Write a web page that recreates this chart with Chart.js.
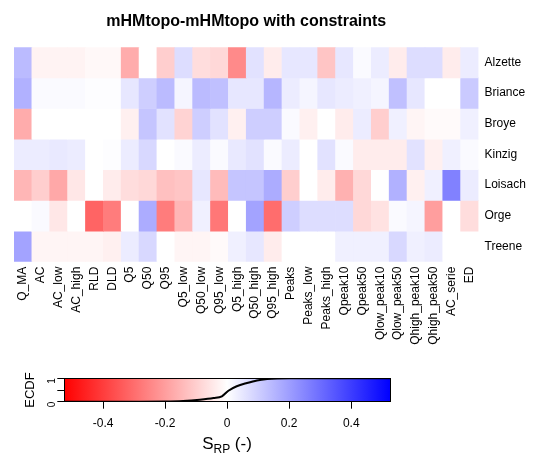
<!DOCTYPE html>
<html lang="en">
<head>
<meta charset="UTF-8">
<title>mHMtopo-mHMtopo with constraints</title>
<script src="https://cdn.jsdelivr.net/npm/chart.js"></script>
<style>
    body { margin: 0; background: #fff; font-family: "Liberation Sans", Arial, sans-serif; }
    #wrap { position: relative; width: 533px; height: 455px; overflow: hidden; }
    #heat { position: absolute; left: 0; top: 0; }
    #bar { position: absolute; left: 0; top: 347px; }
    #srp { position: absolute; top: 434px; left: 167px; width: 120px; text-align: center; font-size: 17px; color: #000; }
    #srp sub { font-size: 12px; }
</style>
</head>
<body>
<div id="wrap">
    <canvas id="heat" width="533" height="347"></canvas>
    <canvas id="bar" width="533" height="108"></canvas>
    <div id="srp">S<sub>RP</sub> (-)</div>
</div>
<script>
    // catchments (rows, top to bottom) and signatures (columns)
    const rows = ['Alzette', 'Briance', 'Broye', 'Kinzig', 'Loisach', 'Orge', 'Treene'];
    const cols = ['Q_MA', 'AC', 'AC_low', 'AC_high', 'RLD', 'DLD', 'Q5', 'Q50', 'Q95',
        'Q5_low', 'Q50_low', 'Q95_low', 'Q5_high', 'Q50_high', 'Q95_high',
        'Peaks', 'Peaks_low', 'Peaks_high', 'Qpeak10', 'Qpeak50',
        'Qlow_peak10', 'Qlow_peak50', 'Qhigh_peak10', 'Qhigh_peak50', 'AC_serie', 'ED'];

    // S_RP values, one array per catchment
    const alzette = [0.14, -0.025, -0.025, -0.025, -0.015, -0.015, -0.17, 0.0, -0.1, 0.07, -0.07, -0.08, -0.24, 0.06, -0.04, 0.05, 0.05, -0.12, 0.05, 0.01, 0.04, -0.04, 0.07, 0.07, -0.04, 0.04];
    const briance = [0.16, 0.01, 0.01, 0.01, 0.005, 0.005, 0.05, 0.1, 0.14, 0.02, 0.14, 0.13, 0.05, 0.05, 0.15, 0.04, 0.02, 0.05, 0.04, 0.03, 0.02, 0.13, 0.05, 0.0, 0.0, 0.11];
    const broye = [-0.17, 0.0, 0.0, 0.0, 0.0, 0.0, -0.03, 0.12, 0.06, -0.09, 0.1, 0.06, -0.03, 0.1, 0.1, 0.01, -0.03, 0.0, -0.04, 0.04, -0.1, 0.03, -0.02, -0.01, -0.01, 0.03];
    const kinzig = [0.04, 0.04, 0.045, 0.04, 0.0, 0.005, 0.04, 0.08, 0.0, 0.01, 0.04, 0.01, 0.045, 0.06, 0.01, 0.04, 0.0, 0.06, 0.01, -0.04, -0.04, -0.04, 0.06, -0.03, 0.03, 0.01];
    const loisach = [-0.15, -0.1, -0.18, -0.05, 0.0, -0.04, -0.07, -0.08, -0.13, -0.12, 0.05, -0.14, 0.12, 0.12, 0.17, -0.1, 0.0, -0.04, -0.16, -0.08, 0.0, 0.16, -0.03, 0.03, 0.26, 0.04];
    const orge = [0.0, 0.01, -0.05, 0.0, -0.32, -0.27, 0.0, 0.17, -0.27, -0.15, 0.03, -0.28, 0.0, 0.19, -0.3, 0.1, 0.07, 0.07, 0.07, -0.08, -0.06, 0.01, 0.02, -0.2, 0.0, -0.07];
    const treene = [0.19, -0.02, -0.02, -0.02, -0.02, -0.03, 0.04, 0.08, 0.0, -0.02, -0.02, -0.01, 0.03, 0.05, -0.04, 0.0, 0.0, 0.0, 0.03, 0.03, 0.03, 0.08, 0.03, 0.04, 0.0, 0.0];
    const values = [alzette, briance, broye, kinzig, loisach, orge, treene];

    // colour bar
    const zlim = 0.525;
    const barTicks = [-0.4, -0.2, 0, 0.2, 0.4];
    const ecdfTicks = [0, 0.5, 1];
    const ecdfX = [-0.525, -0.3, -0.2, -0.142, -0.088, -0.044, -0.017, 0.004, 0.031, 0.064, 0.096, 0.129, 0.161, 0.2, 0.525];
    const ecdfY = [0, 0.002, 0.008, 0.03, 0.086, 0.157, 0.23, 0.47, 0.66, 0.8, 0.91, 0.97, 0.995, 1, 1];

    const font = '"Liberation Sans", Arial, sans-serif';

    // red - white - blue
    function colorFor(v) {
        const t = Math.min(Math.abs(v) / zlim, 1);
        const c = Math.round(255 * (1 - t));
        return v < 0 ? `rgb(255,${c},${c})` : `rgb(${c},${c},255)`;
    }

    const datasets = rows.map((name, r) => ({
        label: name,
        data: values[r].map(() => [r, r + 1]),
        backgroundColor: values[r].map(colorFor),
        borderWidth: 0,
        barPercentage: 1,
        categoryPercentage: 1,
        grouped: false
    }));

    new Chart(document.getElementById('heat'), {
        type: 'bar',
        data: { labels: cols, datasets: datasets },
        options: {
            responsive: false,
            animation: false,
            layout: { padding: { left: 14 } },
            plugins: {
                legend: { display: false },
                tooltip: { enabled: false },
                title: {
                    display: true,
                    fullSize: false,
                    text: 'mHMtopo-mHMtopo with constraints',
                    color: '#000',
                    font: { family: font, size: 16, weight: 'bold' },
                    padding: { top: 12, bottom: 16 }
                }
            },
            scales: {
                x: {
                    type: 'category',
                    grid: { display: false, drawTicks: false },
                    border: { display: false },
                    ticks: {
                        autoSkip: false, minRotation: 90, maxRotation: 90,
                        color: '#000', font: { family: font, size: 12 }, padding: 5
                    },
                    afterFit: s => { s.height = 85.3; }
                },
                y: { type: 'linear', min: 0, max: 7, reverse: true, display: false },
                yr: {
                    axis: 'y',
                    type: 'category',
                    labels: rows,
                    position: 'right',
                    offset: true,
                    grid: { display: false, drawTicks: false },
                    border: { display: false },
                    ticks: { color: '#000', font: { family: font, size: 12 }, padding: 6 },
                    afterFit: s => { s.width = 54.5; }
                }
            }
        }
    });

    // gradient fill + frame of the colour bar
    const colorbarPlugin = {
        id: 'colorbar',
        beforeDatasetsDraw(chart) {
            const { ctx, chartArea: a, scales } = chart;
            const g = ctx.createLinearGradient(scales.x.getPixelForValue(-zlim), 0, scales.x.getPixelForValue(zlim), 0);
            g.addColorStop(0, 'rgb(255,0,0)');
            g.addColorStop(0.5, 'rgb(255,255,255)');
            g.addColorStop(1, 'rgb(0,0,255)');
            ctx.save();
            ctx.fillStyle = g;
            ctx.fillRect(a.left, a.top, a.width, a.height);
            ctx.restore();
        },
        afterDatasetsDraw(chart) {
            const { ctx, chartArea: a } = chart;
            ctx.save();
            ctx.strokeStyle = '#000';
            ctx.lineWidth = 1;
            ctx.strokeRect(Math.round(a.left) + 0.5, Math.round(a.top) + 0.5, Math.round(a.width), Math.round(a.height));
            ctx.restore();
        }
    };

    new Chart(document.getElementById('bar'), {
        type: 'scatter',
        data: {
            datasets: [{
                data: ecdfX.map((x, i) => ({ x: x, y: ecdfY[i] })),
                showLine: true,
                borderColor: '#000',
                borderWidth: 2,
                pointRadius: 0,
                cubicInterpolationMode: 'monotone'
            }]
        },
        options: {
            responsive: false,
            animation: false,
            layout: { padding: { top: 31.3, right: 143 } },
            plugins: { legend: { display: false }, tooltip: { enabled: false } },
            scales: {
                x: {
                    type: 'linear', min: -zlim, max: zlim,
                    afterBuildTicks: s => { s.ticks = barTicks.map(v => ({ value: v })); },
                    afterFit: s => { s.height = 53.3; },
                    grid: { drawOnChartArea: false, color: '#000', tickLength: 7 },
                    border: { display: false },
                    ticks: {
                        color: '#000', font: { family: font, size: 12 }, padding: 8,
                        callback: v => (Math.round(v * 10) / 10).toString()
                    }
                },
                y: {
                    type: 'linear', min: 0, max: 1,
                    afterBuildTicks: s => { s.ticks = ecdfTicks.map(v => ({ value: v })); },
                    afterFit: s => { s.width = 64.3; },
                    grid: { drawOnChartArea: false, color: '#000', tickLength: 7 },
                    border: { display: false },
                    ticks: {
                        color: '#000', font: { family: font, size: 10 }, padding: 5,
                        minRotation: 90, maxRotation: 90,
                        callback: v => (v === 0.5 ? '' : String(v))
                    },
                    title: {
                        display: true, text: 'ECDF', color: '#000',
                        font: { family: font, size: 13 }, padding: { top: 23, bottom: 0 }
                    }
                }
            }
        },
        plugins: [colorbarPlugin]
    });
</script>
</body>
</html>
